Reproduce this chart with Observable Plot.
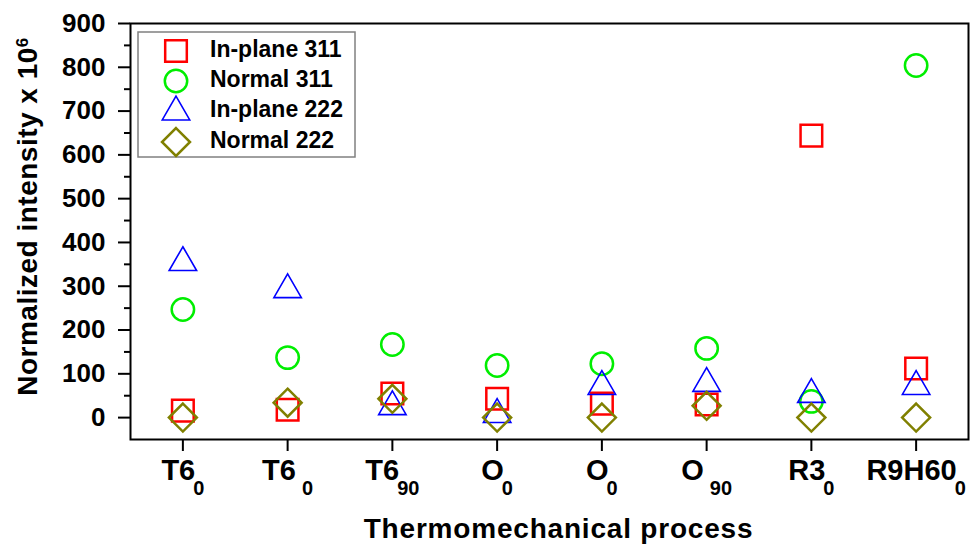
<!DOCTYPE html>
<html>
<head>
<meta charset="utf-8">
<script src="https://cdn.jsdelivr.net/npm/d3@7"></script>
<script src="https://cdn.jsdelivr.net/npm/@observablehq/plot@0.6"></script>
<style>
  html, body { margin: 0; padding: 0; background: #fff; }
  #chart { width: 972px; height: 549px; position: relative; }
  svg { overflow: visible; }
</style>
</head>
<body>
<div id="chart"></div>
<script>
// ---- data ----
const catMain = ["T6", "T6 ", "T6", "O", "O", "O ", "R3", "R9H60"];
const catSub  = ["0", "0", "90", "0", "0", "90", "0", "0"];
const seriesNames = ["In-plane 311", "Normal 311", "In-plane 222", "Normal 222"];
const inPlane311 = [16, 18, 55, 43, 32, 30, 644, 112];
const normal311  = [247, 137, 167, 119, 123, 158, 37, 804];
const inPlane222 = [354, 292, 25, 7, 71, 78, 53, 71];
const normal222  = [0, 34, 43, 0, 0, 27, 0, 0];
const yTicks = [0, 100, 200, 300, 400, 500, 600, 700, 800, 900];
const yMinorTicks = [50, 150, 250, 350, 450, 550, 650, 750, 850];
const xTitle = "Thermomechanical process";
const yTitle = "Normalized intensity x 10";
const yTitleSup = "6";

// ---- styles ----
const FONT = "'Liberation Sans', Arial, Helvetica, sans-serif";
const diamond2 = {
  draw(context, size) {
    const r = Math.sqrt(size) * 0.62625;
    context.moveTo(0, -r);
    context.lineTo(r, 0);
    context.lineTo(0, r);
    context.lineTo(-r, 0);
    context.closePath();
  }
};
const styles = [
  {symbol: d3.symbolSquare, r: 12.2, stroke: "#ff0000", sw: 2.5},
  {symbol: d3.symbolCircle, r: 11.2, stroke: "#00ee00", sw: 2.5},
  {symbol: d3.symbolTriangle, r: 10.2, stroke: "#0000ff", sw: 1.6},
  {symbol: diamond2, r: 12.6, stroke: "#808000", sw: 2.5}
];
const seriesValues = [inPlane311, normal311, inPlane222, normal222];
const rows = seriesValues.map(vals => vals.map((v, i) => ({x: i + 1, y: v})));

const dotMarks = rows.map((data, k) => Plot.dot(data, {
  x: "x", y: "y",
  symbol: styles[k].symbol, r: styles[k].r,
  stroke: styles[k].stroke, strokeWidth: styles[k].sw, fill: "none"
}));

const plot = Plot.plot({
  width: 972,
  height: 549,
  marginLeft: 130,
  marginRight: 4,
  marginTop: 23,
  marginBottom: 110,
  style: {fontFamily: FONT, background: "white", overflow: "visible"},
  x: {type: "linear", domain: [0.5, 8.5], axis: null},
  y: {type: "linear", domain: [-50, 900], axis: null},
  marks: [
    Plot.axisY({ticks: yTicks, tickSize: 12, tickPadding: 13, strokeWidth: 2,
      fontSize: 26, fontWeight: "bold", label: null, tickFormat: d => String(d)}),
    Plot.axisY({ticks: yMinorTicks, tickSize: 6, strokeWidth: 2, label: null, tickFormat: () => ""}),
    Plot.axisX({ticks: d3.range(1, 9), tickSize: 12, tickPadding: 8, strokeWidth: 2,
      fontSize: 29, fontWeight: "bold", label: null, tickFormat: i => catMain[i - 1]}),
    Plot.frame({stroke: "black", strokeWidth: 2}),
    ...dotMarks,
    Plot.text([xTitle], {text: d => d, frameAnchor: "bottom", dx: 9, dy: 90,
      lineAnchor: "middle", fontSize: 28, fontWeight: "bold", fill: "black", className: "xtitle"}),
    Plot.text([yTitle], {text: d => d, frameAnchor: "left", dx: -102, dy: -15, rotate: -90,
      lineAnchor: "middle", textAnchor: "middle", fontSize: 28, fontWeight: "bold", fill: "black", className: "ytitle"})
  ]
});

document.getElementById("chart").appendChild(plot);
const svg = d3.select(plot);

// subscripts on x tick labels
svg.select('g[aria-label="x-axis tick label"]').selectAll("text").each(function(d, i) {
  d3.select(this).append("tspan").attr("dx", "-2px").attr("dy", "15px").attr("font-size", "20px").text(catSub[i]);
});
// widen title letter spacing to match the reference's wider face
svg.select("g.xtitle").selectAll("text").attr("letter-spacing", "0.8px");
// superscript on y title
svg.select("g.ytitle").selectAll("text").attr("letter-spacing", "0.5px").each(function() {
  d3.select(this).append("tspan").attr("dy", "-9px").attr("font-size", "17px").text(yTitleSup);
});

// legend box inside the plot frame
const lg = svg.append("g").attr("class", "legend").attr("text-anchor", "start");
lg.append("rect").attr("x", 138).attr("y", 32).attr("width", 217).attr("height", 125)
  .attr("fill", "white").attr("stroke", "#808080").attr("stroke-width", 1.5);
const rowY = [51, 81, 112, 142];
const textY = [57, 87, 117, 148];
seriesNames.forEach((name, k) => {
  const s = styles[k];
  lg.append("path")
    .attr("d", d3.symbol(s.symbol, s.r * s.r * Math.PI)())
    .attr("transform", `translate(176,${rowY[k]})`)
    .attr("fill", "none").attr("stroke", s.stroke).attr("stroke-width", s.sw);
  lg.append("text").attr("x", 210).attr("y", textY[k])
    .attr("text-anchor", "start")
    .attr("font-family", FONT).attr("font-weight", "bold").attr("font-size", 23)
    .attr("fill", "black").text(name);
});
</script>
</body>
</html>
